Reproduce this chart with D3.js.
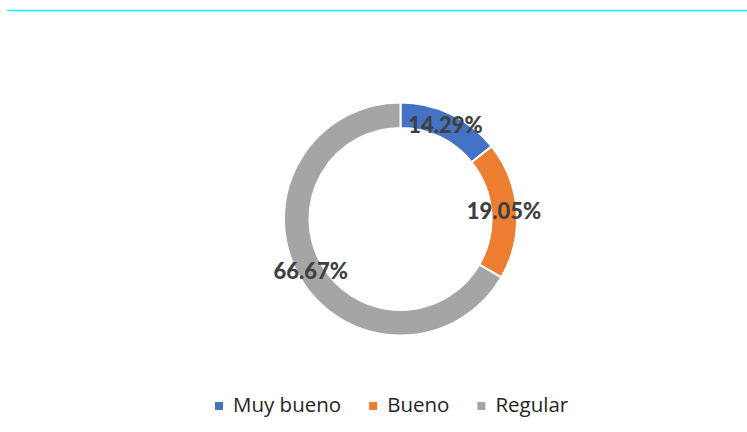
<!DOCTYPE html>
<html>
<head>
<meta charset="utf-8">
<script src="https://cdn.jsdelivr.net/npm/d3@7"></script>
<style>
    body { margin: 0; background: #fff; }
</style>
</head>
<body>
<div id="grafico"></div>
<script>
// data
var categorias = ["Muy bueno", "Bueno", "Regular"];
var valores = [14.29, 19.05, 66.67];
var etiquetas = ["14.29%", "19.05%", "66.67%"];
var colores = ["#4472C4", "#ED7D31", "#A5A5A5"];

var width = 747, height = 432;

var svg = d3.select("#grafico").append("svg")
    .attr("width", width)
    .attr("height", height);

// cyan line at the top
svg.append("line")
    .attr("x1", 7).attr("x2", width)
    .attr("y1", 10.5).attr("y2", 10.5)
    .attr("stroke", "#00FFFF")
    .attr("stroke-width", 1.5);

var datos = categorias.map(function (c, i) {
    return { "categoria": c, "valor": valores[i], "etiqueta": etiquetas[i] };
});

var color = d3.scaleOrdinal().domain(categorias).range(colores);

var pie = d3.pie()
    .sort(null)
    .value(function (d) { return d.valor; });

var arc = d3.arc()
    .innerRadius(91)
    .outerRadius(116.5);

var g = svg.append("g")
    .attr("transform", "translate(400.5,219)");

g.selectAll(".trozo")
    .data(pie(datos))
    .enter().append("path")
    .attr("class", "trozo")
    .attr("d", arc)
    .attr("fill", function (d) { return color(d.data.categoria); })
    .attr("stroke", "#fff")
    .attr("stroke-width", 2);

// labels on the ring
g.selectAll(".etiqueta")
    .data(pie(datos))
    .enter().append("text")
    .attr("class", "etiqueta")
    .attr("transform", function (d) { return "translate(" + arc.centroid(d) + ")"; })
    .attr("text-anchor", "middle")
    .attr("dy", "0.36em")
    .attr("font-family", "Lato, 'Open Sans', sans-serif")
    .attr("font-weight", "900")
    .attr("font-size", "22px")
    .attr("fill", "#404040")
    .text(function (d) { return d.data.etiqueta; });

// legend
var leyenda = svg.append("g")
    .attr("transform", "translate(215,0)");

var x = 0;
categorias.forEach(function (c) {
    leyenda.append("rect")
        .attr("x", x).attr("y", 402)
        .attr("width", 8).attr("height", 8)
        .attr("fill", color(c));
    var t = leyenda.append("text")
        .attr("x", x + 18).attr("y", 412)
        .attr("font-family", "'Open Sans', sans-serif")
        .attr("font-size", "20.5px")
        .attr("fill", "#262626")
        .text(c);
    x = x + 18 + t.node().getComputedTextLength() + 28;
});
</script>
</body>
</html>
